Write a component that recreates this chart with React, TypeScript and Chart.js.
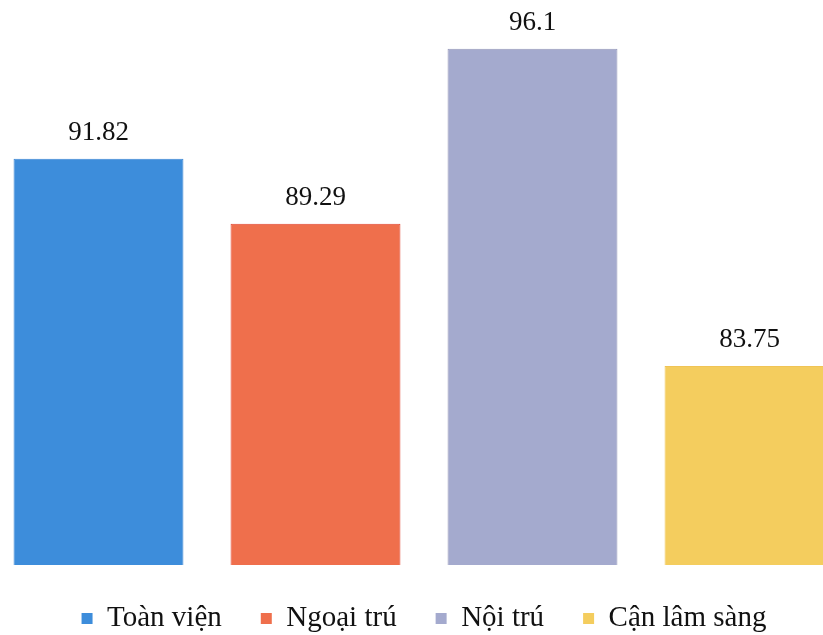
import React, { useEffect, useRef } from "react";
import { Chart, registerables } from "chart.js";

Chart.register(...registerables);

const categories = ["Toàn viện", "Ngoại trú", "Nội trú", "Cận lâm sàng"];
const values = [91.82, 89.29, 96.1, 83.75];
const labelTexts = ["91.82", "89.29", "96.1", "83.75"];
const colors = ["#3D8DDB", "#EF6F4C", "#A4AACE", "#F4CD5E"];
const edgeColors = ["#3A86D4", "#E2432F", "#9497B8", "#F0C455"];

const valueLabels = {
  id: "valueLabels",
  afterDatasetsDraw(chart: any) {
    const ctx = chart.ctx;
    const meta = chart.getDatasetMeta(0);
    ctx.save();
    ctx.font = "27px 'Liberation Serif', 'Times New Roman', serif";
    ctx.fillStyle = "#111";
    ctx.textAlign = "center";
    ctx.textBaseline = "alphabetic";
    meta.data.forEach((bar: any, i: number) => {
      ctx.fillText(labelTexts[i], bar.x, bar.y - 19);
    });
    ctx.restore();
  },
};

export default function App() {
  const ref = useRef<HTMLCanvasElement>(null);
  useEffect(() => {
    if (!ref.current) return;
    const chart = new Chart(ref.current, {
      type: "bar",
      data: {
        labels: categories,
        datasets: [
          {
            data: values,
            backgroundColor: colors,
            borderColor: edgeColors,
            borderWidth: 1,
            categoryPercentage: 1,
            barPercentage: 0.783,
          },
        ],
      },
      options: {
        animation: false,
        responsive: false,
        maintainAspectRatio: false,
        layout: { padding: 0 },
        scales: {
          x: { display: false },
          y: { display: false, min: 76, max: 98 },
        },
        plugins: {
          tooltip: { enabled: false },
          legend: {
            position: "bottom",
            labels: {
              font: { family: "'Liberation Serif', 'Times New Roman', serif", size: 29 },
              color: "#111",
              boxWidth: 11,
              boxHeight: 11,
              padding: 39,
              generateLabels: () =>
                categories.map((c, i) => ({
                  text: c,
                  fillStyle: colors[i],
                  strokeStyle: colors[i],
                  lineWidth: 0,
                  hidden: false,
                  index: i,
                  fontColor: "#111",
                })),
            },
          },
        },
      },
      plugins: [valueLabels],
    });
    return () => chart.destroy();
  }, []);
  return (
    <div
      style={{
        position: "fixed",
        left: 0,
        top: 0,
        width: 823,
        height: 635,
        overflow: "hidden",
        background: "#fff",
      }}
    >
      <canvas
        ref={ref}
        width={868}
        height={643}
        style={{ position: "absolute", left: -10, top: 0, width: 868, height: 643 }}
      />
    </div>
  );
}
